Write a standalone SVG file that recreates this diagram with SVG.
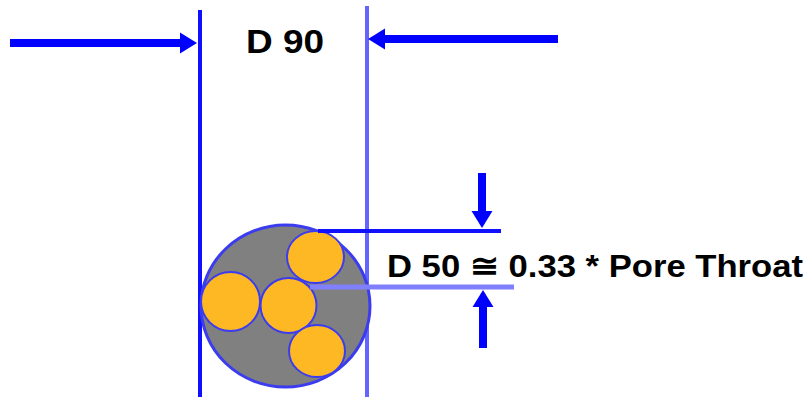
<svg xmlns="http://www.w3.org/2000/svg" width="812" height="399" viewBox="0 0 812 399">
  <defs>
    <style>
      .label { font-family: "Liberation Sans", Arial, sans-serif; font-weight: bold; fill: #000; }
      .arrow { stroke: #0000ff; stroke-width: 8; fill: none; }
      .grain { fill: #fdb824; stroke: #3b3bf0; stroke-width: 2; }
    </style>
    <marker id="head" markerUnits="userSpaceOnUse" markerWidth="17" markerHeight="21" refX="2" refY="10.5" orient="auto" overflow="visible">
      <path d="M0,0 L17,10.5 L0,21 Z" fill="#0000ff"/>
    </marker>
  </defs>
  <rect width="812" height="399" fill="#fff"/>

  <!-- extension lines -->
  <g id="extension-lines">
    <line x1="200" y1="10" x2="200" y2="397" stroke="#1010ff" stroke-width="4"/>
    <line x1="367" y1="6" x2="367" y2="397" stroke="#6464ff" stroke-width="4"/>
  </g>

  <!-- pore with packed grains -->
  <g id="pore">
    <ellipse cx="285.5" cy="306" rx="84.5" ry="81" fill="#808080" stroke="#3b3bf0" stroke-width="3"/>
    <g id="grains">
      <ellipse class="grain" cx="315.5" cy="257" rx="28.5" ry="26"/>
      <ellipse class="grain" cx="230.5" cy="301.5" rx="29.5" ry="29.5"/>
      <ellipse class="grain" cx="288.5" cy="305.5" rx="28" ry="27.5"/>
      <ellipse class="grain" cx="317" cy="351" rx="28" ry="26"/>
    </g>
  </g>

  <!-- D50 dimension lines -->
  <g id="d50-lines">
    <line x1="318" y1="231" x2="501" y2="231" stroke="#1010ff" stroke-width="4"/>
    <line x1="310" y1="287" x2="514" y2="287" stroke="#8080ff" stroke-width="5"/>
  </g>

  <!-- connectors -->
  <g id="connectors">
    <line class="arrow" x1="10" y1="43" x2="182" y2="43" marker-end="url(#head)"/>
    <line class="arrow" x1="558" y1="39" x2="383" y2="39" marker-end="url(#head)"/>
    <line class="arrow" x1="482" y1="173" x2="482" y2="213" marker-end="url(#head)"/>
    <line class="arrow" x1="483" y1="348" x2="483" y2="305" marker-end="url(#head)"/>
  </g>

  <g id="label-d90">
    <text class="label" x="246" y="53" font-size="33" textLength="78" lengthAdjust="spacingAndGlyphs">D 90</text>
  </g>
  <g id="label-d50">
    <text class="label" x="387" y="277" font-size="32" textLength="416" lengthAdjust="spacingAndGlyphs">D 50 ≅ 0.33 * Pore Throat</text>
  </g>
</svg>
